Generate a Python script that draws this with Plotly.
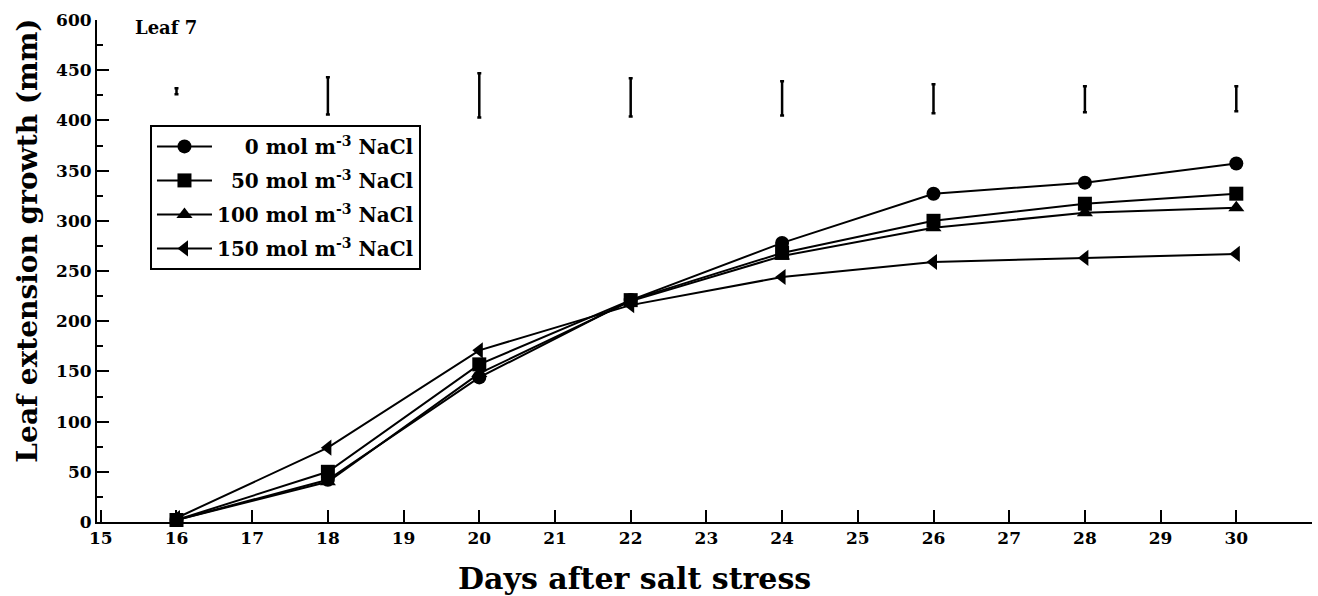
import plotly.graph_objects as go

days = [16, 18, 20, 22, 24, 26, 28, 30]
series_names = [
    "\u2007\u20070 mol m<sup>-3</sup> NaCl",
    "\u200750 mol m<sup>-3</sup> NaCl",
    "100 mol m<sup>-3</sup> NaCl",
    "150 mol m<sup>-3</sup> NaCl",
]
growth_0 = [2, 42, 144, 221, 278, 327, 338, 357]
growth_50 = [2, 50, 157, 221, 268, 300, 317, 327]
growth_100 = [2, 40, 148, 220, 265, 293, 308, 313]
growth_150 = [4, 74, 171, 216, 244, 259, 263, 267]
lsd_center = [429, 424.5, 425, 423, 422, 421.5, 421, 421.5]
lsd_half = [3, 18.5, 22, 19, 17, 14.5, 13, 12.5]

x_tickvals = list(range(15, 32))
x_ticktext = [str(v) for v in range(15, 31)] + [""]
y_tickvals = [0, 50, 100, 150, 200, 250, 300, 350, 400, 450, 500]
y_ticktext = ["0", "50", "100", "150", "200", "250", "300", "350", "400", "450", "600"]

symbols = ["circle", "square", "triangle-up", "triangle-left"]
FONT = "DejaVu Serif"

fig = go.Figure()
for name, vals, sym in zip(series_names, [growth_0, growth_50, growth_100, growth_150], symbols):
    fig.add_trace(go.Scatter(
        x=days, y=vals, name=name, mode="lines+markers",
        line=dict(color="black", width=2),
        marker=dict(symbol=sym, size=14, color="black"),
        cliponaxis=False, legendgroup=name,
    ))

fig.add_trace(go.Scatter(
    x=days, y=lsd_center, mode="markers", showlegend=False,
    marker=dict(size=1, color="rgba(0,0,0,0)"),
    error_y=dict(type="data", array=lsd_half, visible=True, color="black", thickness=2.5, width=2),
    cliponaxis=False,
))

fig.add_annotation(
    x=15.42, y=493, xref="x", yref="y", text="<b>Leaf 7</b>", showarrow=False,
    xanchor="left", yanchor="middle", font=dict(family=FONT, size=18, color="black"),
)
# axis titles placed off-centre as in the reference
fig.add_annotation(
    x=22.05, y=-0.112, xref="x", yref="paper", text="<b>Days after salt stress</b>",
    showarrow=False, xanchor="center", yanchor="middle",
    font=dict(family=FONT, size=30, color="black"),
)
fig.add_annotation(
    x=-0.057, y=0.56, xref="paper", yref="paper",
    text="<b>Leaf extension growth (mm)</b>", textangle=-90, showarrow=False,
    xanchor="center", yanchor="middle",
    font=dict(family=FONT, size=28, color="black"),
)

fig.update_layout(
    width=1318, height=596,
    margin=dict(l=97, r=6, t=20, b=74),
    paper_bgcolor="white", plot_bgcolor="white",
    font=dict(family=FONT, color="black"),
    showlegend=True,
    legend=dict(
        x=0.0436, y=0.791, xanchor="left", yanchor="top",
        bordercolor="black", borderwidth=2, bgcolor="white",
        font=dict(family=FONT, size=20, color="black", weight="bold"),
        tracegroupgap=5, itemwidth=55,
    ),
    xaxis=dict(
        range=[14.95, 31], showgrid=False, zeroline=False,
        showline=True, linecolor="black", linewidth=2,
        ticks="inside", ticklen=12, tickwidth=2, tickcolor="black",
        tickvals=x_tickvals, ticktext=x_ticktext,
        tickfont=dict(family=FONT, size=17, color="black", weight="bold"),
    ),
    yaxis=dict(
        range=[0, 500], showgrid=False, zeroline=False,
        showline=True, linecolor="black", linewidth=2,
        ticks="inside", ticklen=12, tickwidth=2, tickcolor="black",
        tickvals=y_tickvals, ticktext=y_ticktext,
        minor=dict(ticks="inside", ticklen=6, tickwidth=1.5, tickcolor="black", dtick=25, tick0=0),
        tickfont=dict(family=FONT, size=17, color="black", weight="bold"),
    ),
)

fig.write_html("out.html")
